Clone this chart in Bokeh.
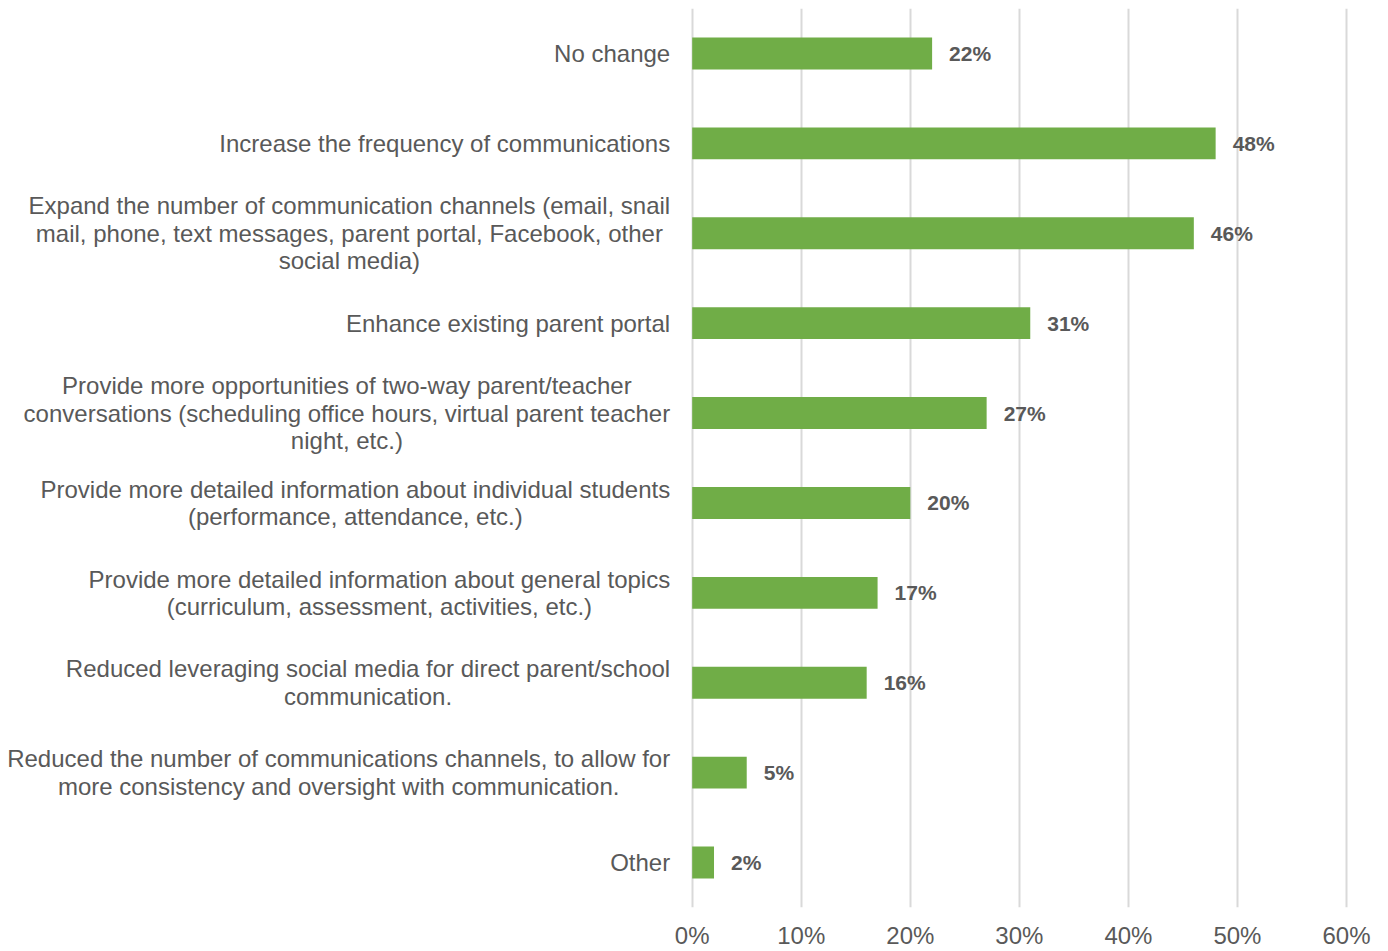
from bokeh.plotting import figure
from bokeh.models import ColumnDataSource, Range1d, FixedTicker, CustomJSTickFormatter, FactorRange
from bokeh.core.properties import value
from bokeh.embed import file_html
from bokeh.resources import INLINE

categories = [
    "No change",
    "Increase the frequency of communications",
    "Expand the number of communication channels (email, snail\nmail, phone, text messages, parent portal, Facebook, other\nsocial media)",
    "Enhance existing parent portal",
    "Provide more opportunities of two-way parent/teacher\nconversations (scheduling office hours, virtual parent teacher\nnight, etc.)",
    "Provide more detailed information about individual students\n(performance, attendance, etc.)",
    "Provide more detailed information about general topics\n(curriculum, assessment, activities, etc.)",
    "Reduced leveraging social media for direct parent/school\ncommunication.",
    "Reduced the number of communications channels, to allow for\nmore consistency and oversight with communication.",
    "Other",
]
values = [22, 48, 46, 31, 27, 20, 17, 16, 5, 2]
x_ticks = [0, 10, 20, 30, 40, 50, 60]

FONT = "Liberation Sans"
GRAY = "#595959"
GREEN = "#70AD47"

keys = [f"c{i}" for i in range(len(categories))]
src = ColumnDataSource(dict(
    key=keys,
    cat=categories,
    val=values,
    zero=[0] * len(values),
    lab=[f"{v}%" for v in values],
))

px_per_unit = 10.905
left_px = 691.7
W, H = 1388, 951

p = figure(
    width=W, height=H,
    x_range=Range1d(-left_px / px_per_unit, (W - left_px) / px_per_unit),
    y_range=FactorRange(*reversed(keys), range_padding=0),
    output_backend="svg", toolbar_location=None,
    y_axis_location=None,
    min_border_left=0, min_border_right=0, min_border_top=8, min_border_bottom=41,
)
p.outline_line_color = None
p.background_fill_color = "white"
p.border_fill_color = "white"

p.hbar(y="key", left=0, right="val", height=0.355, source=src,
       fill_color=GREEN, line_color=None)

p.text(x="zero", y="key", text="cat", source=src, x_offset=-22,
       anchor="center_right", text_align="center", text_baseline="middle",
       text_font=value(FONT), text_font_size="24px", text_color=GRAY,
       text_line_height=1.02)

p.text(x="val", y="key", text="lab", source=src, x_offset=17,
       text_align="left", text_baseline="middle",
       text_font=value(FONT), text_font_size="21px", text_font_style="bold",
       text_color=GRAY)

p.xgrid.ticker = FixedTicker(ticks=x_ticks)
p.xgrid.grid_line_color = "#D9D9D9"
p.xgrid.grid_line_width = 2
p.ygrid.grid_line_color = None

xa = p.xaxis[0]
xa.ticker = FixedTicker(ticks=x_ticks)
xa.formatter = CustomJSTickFormatter(code="return tick + '%';")
xa.axis_line_color = None
xa.major_tick_line_color = None
xa.minor_tick_line_color = None
xa.major_tick_out = 0
xa.major_tick_in = 0
xa.major_label_standoff = 14
xa.major_label_text_font = FONT
xa.major_label_text_font_size = "24px"
xa.major_label_text_color = GRAY

open("out.html", "w").write(file_html(p, INLINE))
